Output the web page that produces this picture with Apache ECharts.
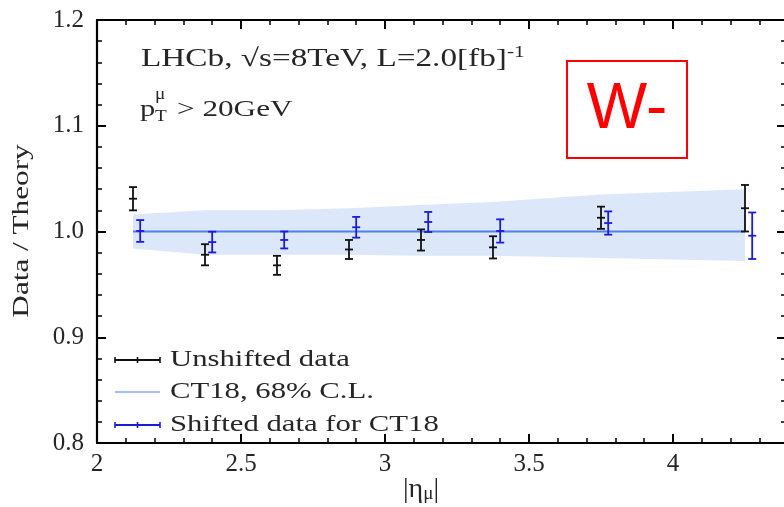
<!DOCTYPE html>
<html><head><meta charset="utf-8">
<script src="https://cdn.jsdelivr.net/npm/echarts@6/dist/echarts.min.js"></script>
<style>html,body{margin:0;padding:0;background:#fff}#c{width:784px;height:507px}</style>
</head><body><div id="c"></div>
<script>
// ---- data ----
const xTicks = [2, 2.5, 3, 3.5, 4];
const yTicks = [0.8, 0.9, 1.0, 1.1, 1.2];
const binCenters = [2.125, 2.375, 2.625, 2.875, 3.125, 3.375, 3.75, 4.25];
const unshiftedY = [1.031, 0.978, 0.968, 0.983, 0.992, 0.985, 1.013, 1.022];
const unshiftedErr = [0.011, 0.010, 0.009, 0.009, 0.010, 0.0105, 0.0105, 0.022];
const shiftedX = [2.15, 2.40, 2.65, 2.90, 3.15, 3.40, 3.775, 4.275];
const shiftedY = [1.0005, 0.990, 0.992, 1.004, 1.009, 1.0005, 1.008, 0.996];
const shiftedErr = [0.0103, 0.0098, 0.008, 0.0098, 0.0095, 0.011, 0.011, 0.022];
const ct18Y = [1.0, 1.0, 1.0, 1.0, 1.0, 1.0, 1.0, 1.0];
const bandHi = [1.016, 1.020, 1.020, 1.022, 1.025, 1.028, 1.035, 1.040];
const bandLo = [0.984, 0.978, 0.978, 0.978, 0.977, 0.977, 0.975, 0.972];
const legendNames = ['Unshifted data', 'CT18, 68% C.L.', 'Shifted data for CT18'];

const SERIF = '"Liberation Serif", "Times New Roman", serif';
const TXT = '#262626';
const BLACK = '#111111';
const BLUE = '#1c1cd6';
const LINEBLUE = '#4d7ff2';

function errRender(color) {
  return function (params, api) {
    const x = api.value(0), y = api.value(1), e = api.value(2);
    const c = api.coord([x, y]);
    const lo = api.coord([x, y - e]);
    const hi = api.coord([x, y + e]);
    const w = 4;
    const st = { stroke: color, lineWidth: 1.8 };
    return {
      type: 'group',
      children: [
        { type: 'line', shape: { x1: c[0], y1: lo[1], x2: c[0], y2: hi[1] }, style: st },
        { type: 'line', shape: { x1: c[0] - w, y1: lo[1], x2: c[0] + w, y2: lo[1] }, style: st },
        { type: 'line', shape: { x1: c[0] - w, y1: hi[1], x2: c[0] + w, y2: hi[1] }, style: st },
        { type: 'line', shape: { x1: c[0] - w, y1: c[1], x2: c[0] + w, y2: c[1] }, style: st }
      ]
    };
  };
}

function bandRender(params, api) {
  const pts = [];
  for (let i = 0; i < binCenters.length; i++) pts.push(api.coord([binCenters[i], bandHi[i]]));
  for (let i = binCenters.length - 1; i >= 0; i--) pts.push(api.coord([binCenters[i], bandLo[i]]));
  return { type: 'polygon', shape: { points: pts }, style: { fill: 'rgba(140,175,240,0.30)' } };
}

function legendIcon(y, color, ticks, lw) {
  const ch = [{ type: 'line', shape: { x1: 115, y1: y, x2: 160, y2: y }, style: { stroke: color, lineWidth: lw } }];
  if (ticks) {
    [115, 137.5, 160].forEach(function (x) {
      ch.push({ type: 'line', shape: { x1: x, y1: y - 3, x2: x, y2: y + 3 }, style: { stroke: color, lineWidth: 1.6 } });
    });
  }
  return ch;
}

const chart = echarts.init(document.getElementById('c'), null, { renderer: 'canvas' });

const axisLineStyle = { show: true, lineStyle: { color: '#000', width: 2.2 } };
const tickStyle = { show: true, inside: true, length: 9, lineStyle: { color: '#000', width: 2 } };
const minorStyle = { show: true, splitNumber: 5, length: 5, lineStyle: { color: '#000', width: 1.5 } };

const legendY = [360, 392, 425];

chart.setOption({
  animation: false,
  backgroundColor: '#ffffff',
  grid: { left: 97, top: 20, right: -33, bottom: 64, containLabel: false, outerBoundsMode: 'none' },
  xAxis: [
    {
      type: 'value', min: 2, max: 4.5, interval: 0.5, position: 'bottom',
      axisLine: axisLineStyle, axisTick: tickStyle, minorTick: minorStyle,
      splitLine: { show: false },
      axisLabel: {
        margin: 9, color: TXT, fontFamily: SERIF, fontSize: 25, showMaxLabel: false,
        formatter: function (v) { return xTicks.indexOf(v) >= 0 ? String(v) : ''; }
      }
    },
    {
      type: 'value', min: 2, max: 4.5, interval: 0.5, position: 'top',
      axisLine: axisLineStyle, axisTick: tickStyle, minorTick: minorStyle,
      splitLine: { show: false }, axisLabel: { show: false }
    }
  ],
  yAxis: [
    {
      type: 'value', min: 0.8, max: 1.2, interval: 0.1, position: 'left',
      axisLine: axisLineStyle, axisTick: tickStyle, minorTick: minorStyle,
      splitLine: { show: false },
      axisLabel: {
        margin: 13, color: TXT, fontFamily: SERIF, fontSize: 25,
        formatter: function (v) {
          const m = yTicks.find(function (t) { return Math.abs(t - v) < 1e-9; });
          return m !== undefined ? m.toFixed(1) : '';
        }
      }
    },
    {
      type: 'value', min: 0.8, max: 1.2, interval: 0.1, position: 'right', offset: -31,
      axisLine: axisLineStyle, axisTick: tickStyle, minorTick: minorStyle,
      splitLine: { show: false }, axisLabel: { show: false }
    }
  ],
  series: [
    {
      type: 'custom', name: 'band', renderItem: bandRender, data: [[binCenters[0], bandLo[0]]],
      encode: { x: 0, y: 1 }, silent: true, z: 1
    },
    {
      type: 'line', name: legendNames[1], data: binCenters.map(function (x, i) { return [x, ct18Y[i]]; }),
      symbol: 'none', lineStyle: { color: LINEBLUE, width: 2 }, z: 2
    },
    {
      type: 'custom', name: legendNames[0], renderItem: errRender(BLACK),
      data: binCenters.map(function (x, i) { return [x, unshiftedY[i], unshiftedErr[i]]; }),
      encode: { x: 0, y: 1 }, z: 3
    },
    {
      type: 'custom', name: legendNames[2], renderItem: errRender(BLUE),
      data: shiftedX.map(function (x, i) { return [x, shiftedY[i], shiftedErr[i]]; }),
      encode: { x: 0, y: 1 }, z: 4
    }
  ],
  graphic: [
    // axis titles
    { type: 'text', x: 22, y: 231, rotation: Math.PI / 2, scaleX: 1.3,
      style: { text: 'Data / Theory', font: '24px ' + SERIF, fill: TXT, align: 'center', verticalAlign: 'middle' } },
    { type: 'text', x: 421, y: 490,
      style: { text: '{a||η}{s|μ}{a||}', align: 'center', verticalAlign: 'middle', fill: TXT,
        rich: { a: { fontFamily: SERIF, fontSize: 28, color: TXT }, s: { fontFamily: SERIF, fontSize: 19, color: TXT, verticalAlign: 'bottom' } } } },
    // annotation
    { type: 'text', x: 141, y: 59, scaleX: 1.33,
      style: { text: '{a|LHCb, √s=8TeV, L=2.0[fb]}{s|-1}', verticalAlign: 'middle', fill: TXT,
        rich: { a: { fontFamily: SERIF, fontSize: 25, color: TXT, lineHeight: 28 }, s: { fontFamily: SERIF, fontSize: 16, color: TXT, verticalAlign: 'top', lineHeight: 16 } } } },
    { type: 'text', x: 140, y: 110, scaleX: 1.27, style: { text: 'p', font: '24px ' + SERIF, fill: TXT, verticalAlign: 'middle' } },
    { type: 'text', x: 155, y: 95, scaleX: 1.2, style: { text: 'μ', font: '16px ' + SERIF, fill: TXT, verticalAlign: 'middle' } },
    { type: 'text', x: 155, y: 117, scaleX: 1.2, style: { text: 'T', font: '16px ' + SERIF, fill: TXT, verticalAlign: 'middle' } },
    { type: 'text', x: 177, y: 110, scaleX: 1.3, style: { text: '> 20GeV', font: '24px ' + SERIF, fill: TXT, verticalAlign: 'middle' } },
    // W- box
    { type: 'rect', shape: { x: 567, y: 61, width: 120, height: 97 }, style: { fill: 'none', stroke: '#ff0000', lineWidth: 2 } },
    { type: 'text', x: 627, y: 110, style: { text: 'W-', font: '64px "Liberation Sans", Arial, sans-serif', fill: '#ff0000', align: 'center', verticalAlign: 'middle' } },
    // legend
    { type: 'group', children: []
      .concat(legendIcon(legendY[0], BLACK, true, 1.8))
      .concat(legendIcon(legendY[1], LINEBLUE, false, 1.2))
      .concat(legendIcon(legendY[2], BLUE, true, 1.8)) },
    { type: 'text', x: 170, y: legendY[0], scaleX: 1.28, style: { text: legendNames[0], font: '24px ' + SERIF, fill: TXT, verticalAlign: 'middle' } },
    { type: 'text', x: 170, y: legendY[1], scaleX: 1.28, style: { text: legendNames[1], font: '24px ' + SERIF, fill: TXT, verticalAlign: 'middle' } },
    { type: 'text', x: 170, y: legendY[2], scaleX: 1.28, style: { text: legendNames[2], font: '24px ' + SERIF, fill: TXT, verticalAlign: 'middle' } }
  ]
});
</script>
</body></html>
